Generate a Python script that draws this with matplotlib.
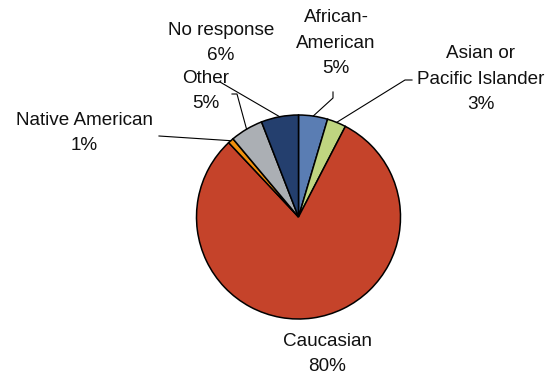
import matplotlib
matplotlib.use("Agg")
import matplotlib.pyplot as plt
import numpy as np

plt.rcParams["font.family"] = ["Liberation Sans", "DejaVu Sans"]

# 数据（从图上读取，顺时针自 12 点起）
categories = ["African-\nAmerican", "Asian or\nPacific Islander", "Caucasian",
              "Native American", "Other", "No response"]
shares = [4.6, 3.0, 80.4, 0.9, 5.2, 5.9]
colors = ["#5A7DB3", "#BFD580", "#C5432A", "#F0900E", "#ABAFB4", "#243F6E"]

# 标签位置与引线拐点（像素坐标，y 向下）
label_xy = [(336, 43), (481, 79), (327, 354), (84, 133), (206, 91), (221, 43)]
leader_pts = [[(333, 92), (333, 98)], [(412, 80), (405, 80)], None,
              [(159, 136)], [(232, 94), (237, 94)], [(220, 82)]]

W, H = 551, 377
fig = plt.figure(figsize=(W / 100, H / 100), dpi=100)
ax = fig.add_axes([0, 0, 1, 1])
ax.set_xlim(0, W)
ax.set_ylim(0, H)
ax.set_aspect("equal")
ax.axis("off")

cx, cy, r = 298.5, H - 217, 102
wedges, _ = ax.pie(shares, colors=colors, startangle=90, counterclock=False,
                   center=(cx, cy), radius=r,
                   wedgeprops=dict(edgecolor="black", linewidth=1.1))
ax.set_xlim(0, W)
ax.set_ylim(0, H)

for w, name, v, (lx, ly), pts in zip(wedges, categories, shares, label_xy, leader_pts):
    ax.text(lx, H - ly, f"{name}\n{round(v)}%", ha="center", va="center",
            fontsize=13.6, linespacing=1.62, color="#111111")
    if pts is None:
        continue
    mid = np.deg2rad((w.theta1 + w.theta2) / 2)
    sx, sy = cx + r * np.cos(mid), cy + r * np.sin(mid)
    xs = [sx] + [p[0] for p in reversed(pts)]
    ys = [sy] + [H - p[1] for p in reversed(pts)]
    ax.plot(xs, ys, color="black", linewidth=0.8)

fig.savefig("out.png", dpi=100)
